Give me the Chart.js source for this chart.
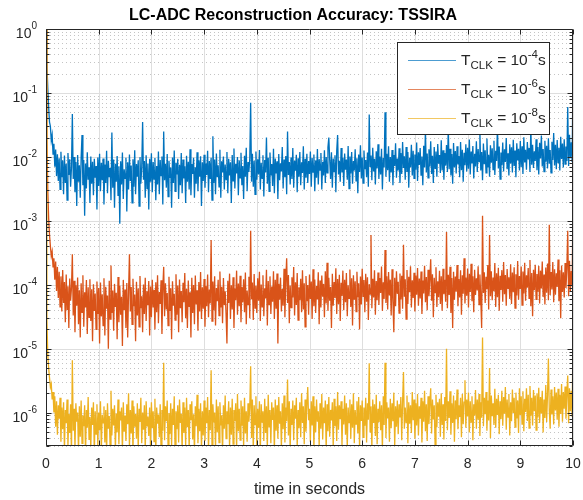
<!DOCTYPE html>
<html><head><meta charset="utf-8">
<script src="https://cdn.jsdelivr.net/npm/chart.js@4.4.1/dist/chart.umd.min.js"></script>
<style>html,body{margin:0;padding:0;background:#fff}canvas{display:block}</style>
</head><body>
<canvas id="c" width="583" height="500"></canvas>
<script>
// ---------- data ----------
const xTicks = [0,1,2,3,4,5,6,7,8,9,10];
const yTickExponents = [0,-1,-2,-3,-4,-5,-6];
const seriesLabels = ['-4','-6','-8'];

const blue = [
1,0.3,0.12,0.06,0.035,0.03,0.018,0.022,0.011,0.016,
0.007,0.013,0.005,0.011,0.0042,0.0095,0.0031,0.012,0.0048,0.0088,
0.0026,0.0105,0.0039,0.0078,0.0021,0.0115,0.0052,0.0092,0.0034,0.0068,
0.047,0.0045,0.0099,0.0028,0.0083,0.0017,0.0107,0.0041,0.0074,0.0023,
0.0096,0.022,0.0036,0.0089,0.0012,0.0079,0.0032,0.0118,0.0044,0.0069,
0.0019,0.0101,0.0038,0.0084,0.0025,0.0093,0.0047,0.0072,0.0015,0.0098,
0.0035,0.0112,0.0029,0.0081,0.0043,0.0094,0.0018,0.0076,0.0039,0.0124,
0.0027,0.0087,0.0048,0.0067,0.0021,0.024,0.0033,0.0091,0.0016,0.0078,
0.0041,0.0103,0.0025,0.0071,0.0009,0.0085,0.0037,0.0117,0.0022,0.0064,
0.0046,0.0097,0.0014,0.0082,0.0031,0.0109,0.0042,0.0073,0.0019,0.0092,
0.0034,0.0127,0.0026,0.0077,0.0049,0.0088,0.0017,0.0099,0.0038,0.0069,
0.035,0.0044,0.0086,0.0023,0.0106,0.0032,0.0079,0.0015,0.0093,0.0041,
0.0114,0.0028,0.0083,0.0045,0.0096,0.0021,0.0072,0.0037,0.0121,0.0026,
0.0089,0.0051,0.0101,0.0018,0.025,0.0043,0.0078,0.0033,0.0111,0.0024,
0.0087,0.0047,0.0068,0.0016,0.0098,0.0039,0.0126,0.0029,0.0081,0.0053,
0.0093,0.0022,0.0075,0.0036,0.0115,0.0027,0.0091,0.0046,0.0071,0.0019,
0.0104,0.0041,0.0084,0.0031,0.0131,0.0025,0.0077,0.0054,0.0097,0.0023,
0.0069,0.0038,0.0118,0.0029,0.0088,0.0049,0.0102,0.0017,0.0082,0.0042,
0.0108,0.0033,0.0079,0.0052,0.0124,0.0028,0.0086,0.0045,0.0097,0.0021,
0.021,0.0039,0.0091,0.0026,0.0113,0.0048,0.0074,0.0034,0.0129,0.0023,
0.0085,0.0057,0.0101,0.0031,0.0076,0.0044,0.0119,0.0027,0.0093,0.0051,
0.0082,0.0019,0.0107,0.0042,0.0135,0.0032,0.0078,0.0055,0.0099,0.0025,
0.0088,0.0047,0.0116,0.0036,0.0072,0.0022,0.0104,0.0049,0.0139,0.0029,
0.0083,0.0058,0.0095,0.07,0.0041,0.0112,0.0034,0.0087,0.0026,0.0121,
0.0044,0.0092,0.0053,0.0128,0.0031,0.0081,0.0046,0.0106,0.0024,0.0089,
0.0057,0.02,0.0038,0.0097,0.0029,0.0117,0.0051,0.0077,0.0035,0.0134,
0.0027,0.0094,0.0055,0.0085,0.0022,0.0111,0.0043,0.0079,0.0059,0.0142,
0.0032,0.0091,0.0048,0.0103,0.0026,0.025,0.0052,0.0083,0.0037,0.0098,
0.0045,0.0137,0.0033,0.0087,0.0061,0.0108,0.0028,0.0095,0.0049,0.0119,
0.0036,0.0082,0.0056,0.0146,0.0031,0.0093,0.0047,0.0112,0.0039,0.0086,
0.0054,0.0121,0.0034,0.0096,0.0058,0.0109,0.0029,0.0088,0.0047,0.0133,
0.0037,0.0092,0.0062,0.0115,0.0031,0.0084,0.0051,0.0127,0.0039,0.0099,
0.0056,0.0141,0.02,0.0089,0.0045,0.0118,0.0033,0.0094,0.0059,0.0106,
0.0028,0.0124,0.022,0.0053,0.0087,0.0041,0.0138,0.0057,0.0097,0.0035,
0.0113,0.0063,0.0091,0.0044,0.0148,0.0032,0.0101,0.0055,0.0119,0.0038,
0.0086,0.0061,0.0131,0.0042,0.0095,0.0027,0.0109,0.0058,0.0152,0.0046,
0.0098,0.0039,0.0126,0.0064,0.0089,0.0048,0.0117,0.0034,0.046,0.0071,
0.0105,0.0043,0.0139,0.0059,0.0093,0.0037,0.0122,0.0066,0.0158,0.0045,
0.0101,0.0053,0.0134,0.0031,0.0096,0.0068,0.05,0.0049,0.0112,0.0062,
0.0147,0.0041,0.0099,0.0057,0.0128,0.0036,0.0107,0.0072,0.0163,0.0047,
0.0094,0.0061,0.0136,0.0039,0.0115,0.0054,0.0171,0.0067,0.0102,0.0044,
0.0143,0.0058,0.0119,0.0033,0.0097,0.0069,0.0155,0.0051,0.0124,0.0046,
0.0109,0.0063,0.0167,0.0042,0.0118,0.0075,0.0137,0.0052,0.0101,0.0036,
0.0149,0.0068,0.027,0.0057,0.0113,0.0047,0.0131,0.0071,0.0176,0.0054,
0.0104,0.0039,0.0142,0.0066,0.0121,0.0049,0.0159,0.0078,0.0107,0.0056,
0.0182,0.0061,0.0127,0.0044,0.0115,0.0073,0.0153,0.0058,0.029,0.0064,
0.0134,0.0051,0.0111,0.0038,0.0164,0.0069,0.0123,0.0055,0.0146,0.0076,
0.0103,0.0048,0.0171,0.0062,0.0129,0.0041,0.0116,0.0074,0.0158,0.0059,
0.0139,0.0065,0.0187,0.0053,0.0121,0.0079,0.0148,0.0046,0.0112,0.0071,
0.0175,0.0058,0.0132,0.0084,0.0254,0.0061,0.0119,0.0043,0.0161,0.0077,
0.0127,0.0056,0.0193,0.0068,0.0108,0.0049,0.0152,0.0081,0.0136,0.0063,
0.0179,0.0052,0.0124,0.0086,0.0312,0.0066,0.0145,0.0045,0.0117,0.0074,
0.0168,0.0059,0.0131,0.0083,0.0197,0.0064,0.0114,0.0051,0.0157,0.0079,
0.0141,0.0057,0.0185,0.0072,0.0126,0.0048,0.0163,0.0088,0.0134,0.0061,
0.0177,0.0069,0.0146,0.0054,0.0203,0.0082,0.0129,0.0063,0.0171,0.0091,
0.0138,0.0058,0.0283,0.0075,0.0154,0.0067,0.0122,0.0086,0.0189,0.0062,
0.0143,0.0053,0.0166,0.0094,0.0215,0.0071,0.0133,0.0059,0.0178,0.0084,
0.0149,0.0066,0.0195,0.0078,0.0128,0.0056,0.0172,0.0089,0.0236,0.0073,
0.0155,0.0064,0.0184,0.0081,0.0139,0.0061,0.0207,0.0093,0.0162,0.0068,
0.0188,0.0077,0.0145,0.0086,0.06,0.0072,0.0221,0.0095,0.0169,0.0083,
0.2];

const orange = [
1,0.02,3e-3,1.1e-3,6e-4,4e-4,2.8e-4,3.3e-4,1.9e-4,2.6e-4,
1.2e-4,2.3e-4,8e-5,1.9e-4,6.2e-5,1.6e-4,4.5e-5,1.35e-4,3.8e-5,1.7e-4,
5.2e-5,1.1e-4,2.6e-5,1.45e-4,4.1e-5,9.5e-5,2.1e-5,1.25e-4,5.6e-5,8.8e-5,
3e-4,3.3e-5,1.15e-4,1.8e-5,9.8e-5,4.7e-5,1.3e-4,2.4e-5,8.2e-5,1.5e-5,
1.05e-4,3.7e-5,1.4e-4,2.2e-5,7.6e-5,4.4e-5,1.18e-4,1.7e-5,9.1e-5,3.1e-5,
1.22e-4,2.7e-5,8.5e-5,1.3e-5,1.02e-4,3.9e-5,7.3e-5,2e-5,1.12e-4,3.5e-5,
8.9e-5,1.2e-5,1.08e-4,3.2e-5,7.1e-5,2.3e-5,1.26e-4,1.6e-5,9.3e-5,4.2e-5,
6.8e-5,1e-5,1.15e-4,2.9e-5,2e-4,3.6e-5,8.1e-5,1.9e-5,1.03e-4,4.5e-5,
7.5e-5,1.4e-5,1.32e-4,2.6e-5,9.6e-5,3.4e-5,6.5e-5,1.1e-5,1.19e-4,4e-5,
8.4e-5,2.1e-5,1.06e-4,1.5e-5,7.8e-5,3e-4,3.8e-5,9.2e-5,2.4e-5,1.24e-4,
4.6e-5,7e-5,1.3e-5,1.11e-4,3.3e-5,8.7e-5,2.2e-5,1.37e-4,4.3e-5,6.6e-5,
1.8e-5,1.01e-4,3.5e-5,1.28e-4,2.7e-5,7.9e-5,4.8e-5,1.14e-4,1.6e-5,9.4e-5,
3.1e-5,1.2e-4,4.4e-5,8.3e-5,2e-5,1.09e-4,3.7e-5,1.41e-4,2.5e-5,7.7e-5,
5e-5,1.17e-4,1.7e-5,9e-5,1.9e-4,3.2e-5,1.05e-4,4.1e-5,7.4e-5,2.3e-5,
1.33e-4,3.9e-5,8.8e-5,1.4e-5,1.13e-4,4.7e-5,7.2e-5,2.8e-5,1.46e-4,3.4e-5,
9.7e-5,1.8e-5,1.21e-4,4.3e-5,8e-5,2.6e-5,1.07e-4,5.3e-5,1.52e-4,3e-5,
8.6e-5,2.1e-5,1.16e-4,4.5e-5,7.6e-5,1.5e-5,1.29e-4,3.6e-5,9.9e-5,2.4e-5,
1.39e-4,4.9e-5,8.2e-5,1.9e-5,1.1e-4,3.8e-5,1.58e-4,2.9e-5,9.1e-5,4.2e-5,
1.23e-4,2.2e-5,9.5e-5,4.6e-5,1.44e-4,3.1e-5,8.4e-5,5.1e-5,5e-4,2.7e-5,
1.12e-4,4e-5,1.36e-4,2.3e-5,8.9e-5,5.5e-5,1.19e-4,3.3e-5,1.61e-4,4.4e-5,
9.3e-5,2.5e-5,1.27e-4,4.8e-5,7.9e-5,3.5e-5,1.2e-5,1.15e-4,5.2e-5,1.49e-4,
2.9e-5,9.8e-5,4.1e-5,1.31e-4,2.1e-5,8.7e-5,5.7e-5,1.66e-4,3.4e-5,1.04e-4,
4.6e-5,1.38e-4,2.6e-5,9.2e-5,5.3e-5,1.22e-4,3.7e-5,1.55e-4,2.4e-5,8.1e-5,
4.9e-5,1.33e-4,3e-5,7e-4,5.9e-5,1.08e-4,2.8e-5,1.47e-4,4.3e-5,9.6e-5,
3.6e-5,1.26e-4,5.6e-5,1.59e-4,2.7e-5,1.01e-4,4.5e-5,1.4e-4,3.2e-5,8.8e-5,
6.1e-5,1.71e-4,2.3e-5,1.14e-4,4.9e-5,1.35e-4,3.5e-5,9.4e-5,5.4e-5,1.63e-4,
2.9e-5,1.2e-4,4.2e-5,1.5e-4,1.2e-5,1.03e-4,5.8e-5,1.29e-4,3.8e-5,8.6e-5,
4.7e-5,1.78e-4,3.1e-5,1.17e-4,2.6e-4,5.2e-5,1.42e-4,2.5e-5,9.7e-5,4.4e-5,
1.31e-4,6.3e-5,1.9e-4,3.3e-5,1.09e-4,4.8e-5,1.53e-4,2.8e-5,9.1e-5,5.7e-5,
1.24e-4,3.7e-5,1.68e-4,4.1e-5,1.05e-4,2.2e-5,1.37e-4,5.5e-5,9.9e-5,3.4e-5,
1.45e-4,6e-5,1.12e-4,2.9e-5,1.74e-4,4.6e-5,1.21e-4,3.6e-5,9.5e-5,5.9e-5,
1.57e-4,2.4e-5,1.16e-4,4.4e-5,1.39e-4,6.5e-5,1.03e-4,3.1e-5,1.62e-4,5.1e-5,
2.2e-4,3.9e-5,1.28e-4,5.6e-5,9.2e-5,2.1e-5,1.49e-4,4.7e-5,1.1e-4,6.2e-5,
1.81e-4,3.5e-5,1.23e-4,5e-5,1.43e-4,2.7e-5,1.07e-4,6.7e-5,1.66e-4,4e-5,
1.19e-4,5.3e-5,1.52e-4,3.2e-5,9.8e-5,6.1e-5,1.73e-4,4.5e-5,1.26e-4,2.3e-5,
1.41e-4,5.8e-5,1.13e-4,3.8e-5,1.6e-4,6.4e-5,1.05e-4,2e-5,1.34e-4,4.9e-5,
1.77e-4,6.6e-5,1.18e-4,3.7e-5,1.48e-4,5.4e-5,1.31e-4,2.8e-5,1.02e-4,7.1e-5,
6e-4,4.3e-5,1.24e-4,6.3e-5,1.69e-4,3.4e-5,1.14e-4,5.7e-5,1.55e-4,4.8e-5,
1.27e-4,7.4e-5,1.92e-4,3.9e-5,1.09e-4,6e-5,3.5e-4,5.2e-5,1.36e-4,4.1e-5,
1.58e-4,6.8e-5,1.2e-4,3.3e-5,1.75e-4,5.5e-5,1.8e-5,1.29e-4,4.6e-5,1.63e-4,
7.2e-5,1.11e-4,3.6e-5,1.5e-4,5.9e-5,1.38e-4,4.2e-5,4.2e-4,6.5e-5,1.22e-4,
2.9e-5,1.7e-4,5e-5,1.33e-4,7.6e-5,1.95e-4,4.4e-5,1.17e-4,6.2e-5,1.54e-4,
3.8e-5,1.39e-4,7e-5,1.82e-4,4.7e-5,1.25e-4,6.1e-5,1.61e-4,3.5e-5,1.16e-4,
7.3e-5,1.98e-4,5.3e-5,1.32e-4,4e-5,1.72e-4,6.6e-5,1.21e-4,2.5e-4,5.6e-5,
1.46e-4,3.1e-5,1.28e-4,7.5e-5,1.87e-4,4.5e-5,1.13e-4,6.4e-5,1.65e-4,5e-5,
1.35e-4,3.9e-5,1.78e-4,7.1e-5,1.19e-4,5.4e-5,6.7e-4,4.3e-5,1.43e-4,6.9e-5,
1.91e-4,3.6e-5,1.27e-4,2.1e-5,1.59e-4,5.8e-5,1.34e-4,7.8e-5,2.03e-4,4.6e-5,
1.23e-4,6.3e-5,1.68e-4,3.4e-5,1.4e-4,7.2e-5,2.6e-4,5.1e-5,1.3e-4,6.7e-5,
1.79e-4,4.4e-5,1.48e-4,7.7e-5,2.12e-4,5.5e-5,1.36e-4,3.7e-5,1.71e-4,6.9e-5,
1.26e-4,8.1e-5,1.95e-4,4.9e-5,1.44e-4,6.2e-5,2.1e-5,1.2e-3,7.4e-5,1.57e-4,
5.2e-5,1.33e-4,8.5e-5,2.04e-4,4.1e-5,6e-4,6.6e-5,1.62e-4,5.7e-5,1.29e-4,
7.9e-5,2.18e-4,4.5e-5,1.51e-4,6.4e-5,1.84e-4,3.9e-5,1.38e-4,8.3e-5,1.69e-4,
5.4e-5,2.27e-4,7.1e-5,1.42e-4,4.7e-5,1.76e-4,8.8e-5,1.31e-4,6e-5,2.09e-4,
5e-5,1.55e-4,7.6e-5,1.88e-4,4.3e-5,1.46e-4,6.8e-5,2.35e-4,5.8e-5,1.37e-4,
8.6e-5,1.93e-4,4.8e-5,1.61e-4,7.3e-5,2.21e-4,5.6e-5,1.4e-4,9e-5,1.82e-4,
6.1e-5,2.43e-4,4.6e-5,1.53e-4,3.2e-5,1.72e-4,8.2e-5,2.05e-4,5.9e-5,1.47e-4,
7.8e-5,1.97e-4,5.1e-5,1.66e-4,8.7e-5,2.3e-4,6.4e-5,1.44e-4,4.9e-5,1.86e-4,
7.5e-5,2.14e-4,5.7e-5,8.7e-4,6.9e-5,1.58e-4,8.4e-5,2.26e-4,5.3e-5,1.75e-4,
7e-5,1.51e-4,9.2e-5,2.48e-4,5.5e-5,1.68e-4,3e-5,1.99e-4,7.7e-5,1.57e-4,
6.3e-5,2.19e-4,8.9e-5,1.79e-4,7e-4,6.6e-5,2.37e-4,8e-5,1.63e-4,9.5e-5,
2e-3];

const yellow = [
1,3e-5,8e-6,5e-6,3.5e-6,2.5e-6,2.8e-6,1.6e-6,2.1e-6,1e-6,
1.8e-6,6e-7,1.5e-6,4.5e-7,1.3e-6,8e-7,1.7e-6,3.5e-7,1.2e-6,5.5e-7,
1.45e-6,2.6e-7,1.1e-6,6.8e-7,1.6e-6,3e-7,9.5e-7,4.8e-7,1.35e-6,2.2e-7,
6.6e-6,5.2e-7,1.15e-6,2.8e-7,1.4e-6,7.2e-7,1e-6,2.4e-7,1.25e-6,4.2e-7,
1.55e-6,3.3e-7,9e-7,6.1e-7,1.3e-6,2.1e-7,1.1e-6,5.8e-7,1.75e-6,3.8e-7,
8.5e-7,2.7e-7,1.2e-6,6.4e-7,1.45e-6,2.3e-7,1.05e-6,4.6e-7,1.35e-6,3.1e-7,
1e-6,5.3e-7,1.5e-6,2.5e-7,9.2e-7,6.9e-7,1.25e-6,3.4e-7,1.1e-6,2.2e-7,
1.4e-6,5.6e-7,8.8e-7,2.9e-7,2.2e-6,4.4e-7,1.15e-6,6.3e-7,1.3e-6,2.6e-7,
9.7e-7,4.9e-7,1.6e-6,3.2e-7,1.05e-6,7.5e-7,1.2e-6,2.4e-7,1.45e-6,5e-7,
9e-7,3.6e-7,1.35e-6,6.6e-7,2e-6,2.8e-7,1.1e-6,4.7e-7,1.55e-6,2.3e-7,
1.25e-6,6e-7,9.5e-7,3.9e-7,1.4e-6,2.7e-7,1.15e-6,7.1e-7,1.7e-6,3.3e-7,
1e-6,5.4e-7,1.3e-6,2.5e-7,1.5e-6,6.2e-7,8.7e-7,4.3e-7,1.2e-6,2.9e-7,
1.45e-6,5.7e-7,1.05e-6,3.5e-7,1.65e-6,2.4e-7,1.2e-6,6.7e-7,9.3e-7,4.1e-7,
1.35e-6,2.6e-7,1.1e-6,5.2e-7,6e-6,3.7e-7,1.25e-6,7.3e-7,1.55e-6,2.8e-7,
9.8e-7,4.6e-7,1.4e-6,3.1e-7,1.15e-6,6.4e-7,1.8e-6,2.3e-7,1.05e-6,5.5e-7,
1.3e-6,3.4e-7,1.6e-6,6.9e-7,9.6e-7,2.5e-7,1.45e-6,4.8e-7,1.2e-6,3e-7,
1.7e-6,5.9e-7,1.1e-6,2.7e-7,1.35e-6,7.6e-7,1.5e-6,3.8e-7,9.4e-7,2.4e-7,
1.25e-6,6.1e-7,1.9e-6,3.3e-7,1.15e-6,5.1e-7,1.4e-6,2.6e-7,1.05e-6,4.4e-7,
1.55e-6,3.6e-7,1.2e-6,6.8e-7,1.75e-6,2.5e-7,1.1e-6,5.3e-7,4.6e-6,3.1e-7,
1.35e-6,7e-7,1e-6,2.7e-7,1.6e-6,4.9e-7,1.25e-6,3.4e-7,1.45e-6,6.3e-7,
9.1e-7,2.3e-7,1.3e-6,5.6e-7,1.85e-6,3.9e-7,1.05e-6,6.6e-7,1.5e-6,2.8e-7,
1.2e-6,4.5e-7,1.65e-6,3.2e-7,1.1e-6,7.4e-7,1.4e-6,2.5e-7,1.95e-6,5.1e-7,
1.15e-6,3.7e-7,1.55e-6,6.2e-7,1.25e-6,2.9e-7,1.7e-6,4.7e-7,1.05e-6,3.5e-7,
1.4e-6,7.2e-7,1.2e-6,5.3e-6,4e-7,1.6e-6,2.6e-7,1.3e-6,6.5e-7,1.8e-6,
3.1e-7,1.15e-6,5.8e-7,1.5e-6,2.4e-7,1.35e-6,7.1e-7,1.05e-6,3.6e-7,1.65e-6,
4.8e-7,1.25e-6,2.7e-7,1.9e-6,6e-7,1.1e-6,3.3e-7,1.45e-6,7.7e-7,1.2e-6,
2.5e-7,1.6e-6,5.2e-7,1.3e-6,3.9e-7,1.75e-6,6.7e-7,1.05e-6,2.8e-7,1.4e-6,
5.5e-7,1.85e-6,3.4e-7,1.2e-6,7.3e-7,3.3e-6,4.4e-7,1.5e-6,2.6e-7,1.15e-6,
6.4e-7,1.55e-6,3.7e-7,1.3e-6,8e-7,1.7e-6,2.9e-7,1.1e-6,5.7e-7,1.45e-6,
4.1e-7,2e-6,6.9e-7,1.25e-6,3.2e-7,1.6e-6,5e-7,1.35e-6,2.5e-6,7.6e-7,
1.15e-6,3.5e-7,1.5e-6,6.3e-7,1.8e-6,2.7e-7,1.25e-6,4.9e-7,1.6e-6,7.2e-7,
1.05e-6,3e-7,1.4e-6,5.6e-7,1.95e-6,3.8e-7,1.2e-6,6.8e-7,1.55e-6,2.6e-7,
1.35e-6,5.1e-7,1.75e-6,4.2e-7,1.1e-6,7.5e-7,1.45e-6,2.9e-7,1.65e-6,6.1e-7,
1.25e-6,3.6e-7,2.1e-6,5.4e-7,1.3e-6,7.9e-7,1.5e-6,3.1e-7,1.15e-6,6.5e-7,
1.85e-6,4.5e-7,1.4e-6,2.8e-7,1.2e-6,7e-7,1.6e-6,3.9e-7,1.35e-6,5.8e-7,
2e-6,3.3e-7,1.1e-6,6.6e-7,1.5e-6,4.7e-7,1.75e-6,2.7e-7,1.3e-6,7.4e-7,
1.55e-6,4.1e-7,1.2e-6,6.2e-7,1.7e-6,3.4e-7,1.4e-6,7.7e-7,5.9e-6,5e-7,
1.25e-6,2.9e-7,1.6e-6,6.9e-7,1.35e-6,4.3e-7,1.9e-6,3.2e-7,1.15e-6,7.1e-7,
1.5e-6,5.3e-7,1.3e-6,2.6e-7,1.8e-6,6.4e-7,6e-6,4e-7,1.45e-6,8.1e-7,
1.2e-6,3.5e-7,1.65e-6,5.7e-7,1.4e-6,7.3e-7,2.05e-6,3e-7,1.25e-6,6e-7,
1.55e-6,4.6e-7,1.35e-6,8.4e-7,1.75e-6,3.7e-7,1.5e-6,4.3e-6,5.6e-7,1.2e-6,
7e-7,1.85e-6,3.3e-7,1.45e-6,6.7e-7,1.3e-6,4.8e-7,2.1e-6,7.6e-7,1.6e-6,
3.9e-7,1.4e-6,6.3e-7,1.95e-6,4.4e-7,1.25e-6,8e-7,1.7e-6,3.4e-7,1.5e-6,
7.2e-7,2.2e-6,5.1e-7,1.35e-6,3.6e-7,1.8e-6,6.6e-7,1.45e-6,2.4e-6,4.7e-7,
1.6e-6,7.8e-7,1.3e-6,3.1e-7,1.9e-6,5.9e-7,1.45e-6,8.6e-7,1.65e-6,4.2e-7,
2e-6,6.4e-7,1.35e-6,3.8e-7,1.75e-6,7.4e-7,1e-5,5.3e-7,1.5e-6,8.2e-7,
2.15e-6,4.5e-7,1.4e-6,6.9e-7,1.85e-6,3.5e-7,1.55e-6,7.9e-7,2.3e-6,5.5e-7,
1.3e-6,8.5e-7,1.7e-6,4.1e-7,1.95e-6,6.6e-7,1.45e-6,3.2e-6,5.8e-7,1.6e-6,
8.7e-7,2.05e-6,4.9e-7,1.5e-6,7.1e-7,1.8e-6,3.7e-7,1.35e-6,9e-7,2.25e-6,
5.6e-7,1.6e-6,7.7e-7,1.95e-6,4.3e-7,1.45e-6,8.3e-7,1.5e-5,6.1e-7,1.7e-6,
9.4e-7,2.1e-6,5.2e-7,1.55e-6,7.5e-7,5e-6,4e-7,1.85e-6,8.8e-7,1.4e-6,
6.4e-7,2.35e-6,5.8e-7,1.65e-6,9.2e-7,1.9e-6,4.6e-7,1.5e-6,7.9e-7,2.2e-6,
6.2e-7,1.75e-6,9.6e-7,2.5e-6,5.4e-7,1.6e-6,8.5e-7,1.95e-6,4.4e-7,1.45e-6,
7.3e-7,2.3e-6,9.9e-7,1.7e-6,5.9e-7,2.05e-6,8.1e-7,1.55e-6,4.8e-7,2.4e-6,
9.1e-7,1.8e-6,6.6e-7,2.15e-6,5.1e-7,1.65e-6,1.02e-6,2.4e-6,7.4e-7,1.9e-6,
5.7e-7,2.6e-6,8.9e-7,1.7e-6,6.3e-7,2.25e-6,1.05e-6,1.85e-6,5.3e-7,2e-6,
8.4e-7,2.45e-6,6.9e-7,1.75e-6,9.7e-7,2.2e-6,4.9e-7,1.6e-6,8.2e-7,2.7e-6,
7.1e-7,1.95e-6,7e-6,1.1e-6,5.6e-7,2.3e-6,9.3e-7,1.8e-6,6.5e-7,2.5e-6,
1.08e-6,2.05e-6,7.7e-7,2.35e-6,6e-7,1.9e-6,9.5e-7,2.8e-6,7.2e-7,2.1e-6,
1.15e-6,2.55e-6,8e-7,1.95e-6,3.8e-6,6.8e-7,2.4e-6,1.05e-6,2.2e-6,8.6e-7,
1.5e-5];

// uniform sample grid of the time axis (0 .. 10 s)
const time = blue.map((_, i) => i * 10 / (blue.length - 1));

const COLORS = ['#0072BD', '#D95319', '#EDB120'];
const FONT = "'Liberation Sans', Arial, Helvetica, sans-serif";
const AX = '#262626';

function pts(arr){ return arr.map((v,i)=>({x:time[i], y:v})); }

const matlabPlugin = {
  id: 'matlab',
  beforeDatasetsDraw(chart){
    const {ctx, chartArea:a, scales:{x:xs, y:ys}} = chart;
    ctx.save();
    ctx.lineWidth = 1;
    ctx.strokeStyle = '#c4c4c4';
    ctx.setLineDash([1,3]);
    for (const e of yTickExponents.concat([-7])){
      for (let k=2;k<=9;k++){
        const v = k*Math.pow(10,e);
        if (v < ys.min || v > ys.max) continue;
        const py = Math.round(ys.getPixelForValue(v)) + 0.5;
        ctx.beginPath(); ctx.moveTo(a.left, py); ctx.lineTo(a.right, py); ctx.stroke();
      }
    }
    ctx.setLineDash([]);
    ctx.strokeStyle = '#dedede';
    for (const e of yTickExponents){
      const py = Math.round(ys.getPixelForValue(Math.pow(10,e))) + 0.5;
      ctx.beginPath(); ctx.moveTo(a.left, py); ctx.lineTo(a.right, py); ctx.stroke();
    }
    for (const t of xTicks){
      const px = Math.round(xs.getPixelForValue(t)) + 0.5;
      ctx.beginPath(); ctx.moveTo(px, a.top); ctx.lineTo(px, a.bottom); ctx.stroke();
    }
    ctx.restore();
  },
  afterDatasetsDraw(chart){
    const {ctx, chartArea:a, scales:{x:xs, y:ys}} = chart;
    ctx.save();
    ctx.strokeStyle = AX; ctx.lineWidth = 1; ctx.setLineDash([]);
    const L = a.left + 0.5, R = a.right - 0.5, T = a.top + 0.5, B = a.bottom - 0.5;
    ctx.beginPath();
    ctx.moveTo(L,T); ctx.lineTo(R,T); ctx.lineTo(R,B); ctx.lineTo(L,B); ctx.closePath();
    ctx.stroke();
    ctx.beginPath();
    for (const t of xTicks){
      const px = Math.round(xs.getPixelForValue(t)) + 0.5;
      ctx.moveTo(px, B); ctx.lineTo(px, B-5);
      ctx.moveTo(px, T); ctx.lineTo(px, T+5);
    }
    for (const e of yTickExponents.concat([-7])){
      for (let k=1;k<=9;k++){
        const v = k*Math.pow(10,e);
        if (v < ys.min || v > ys.max) continue;
        const py = Math.round(ys.getPixelForValue(v)) + 0.5;
        const len = k===1 ? 5 : 3;
        ctx.moveTo(L, py); ctx.lineTo(L+len, py);
        ctx.moveTo(R, py); ctx.lineTo(R-len, py);
      }
    }
    ctx.stroke();
    // x tick labels
    ctx.fillStyle = AX;
    ctx.font = '14px ' + FONT;
    ctx.textAlign = 'center'; ctx.textBaseline = 'top';
    for (const t of xTicks){
      ctx.fillText(String(t), xs.getPixelForValue(t), a.bottom + 11);
    }
    // y tick labels 10^e
    ctx.textBaseline = 'alphabetic';
    for (const e of yTickExponents){
      const py = ys.getPixelForValue(Math.pow(10,e));
      const sup = String(e);
      ctx.font = '10px ' + FONT;
      const ws = ctx.measureText(sup).width;
      ctx.font = '14px ' + FONT;
      const wb = ctx.measureText('10').width;
      const right = a.left - 9;
      ctx.textAlign = 'left';
      ctx.fillText('10', right - ws - wb, py + 9);
      ctx.font = '10px ' + FONT;
      ctx.fillText(sup, right - ws, py);
    }
    // axis title
    ctx.font = '16px ' + FONT;
    ctx.textAlign = 'center'; ctx.textBaseline = 'alphabetic';
    ctx.fillText('time in seconds', (a.left + a.right)/2, 494);
    // title
    ctx.fillStyle = '#000';
    ctx.font = 'bold 16px ' + FONT;
    ctx.fillText('LC-ADC Reconstruction Accuracy: TSSIRA', 293, 20);
    // legend
    const bx = 397.5, by = 42.5, bw = 152, bh = 92;
    ctx.fillStyle = '#fff';
    ctx.fillRect(bx, by, bw, bh);
    ctx.strokeStyle = AX;
    ctx.strokeRect(bx, by, bw, bh);
    const rows = [60, 89, 118];
    rows.forEach((ry, i) => {
      ctx.save();
      ctx.globalAlpha = 0.7;
      ctx.strokeStyle = COLORS[i];
      ctx.lineWidth = 1;
      ctx.beginPath(); ctx.moveTo(408, ry + 0.5); ctx.lineTo(456, ry + 0.5); ctx.stroke();
      ctx.restore();
      ctx.fillStyle = AX;
      ctx.textAlign = 'left';
      let x0 = 461;
      const base = ry + 5;
      ctx.font = '15.5px ' + FONT;
      ctx.fillText('T', x0, base); x0 += ctx.measureText('T').width;
      ctx.font = '11.5px ' + FONT;
      ctx.fillText('CLK', x0, base + 4); x0 += ctx.measureText('CLK').width;
      ctx.font = '15.5px ' + FONT;
      ctx.fillText(' = 10', x0, base); x0 += ctx.measureText(' = 10').width;
      ctx.font = '11.5px ' + FONT;
      ctx.fillText(seriesLabels[i], x0, base - 7); x0 += ctx.measureText(seriesLabels[i]).width;
      ctx.font = '15.5px ' + FONT;
      ctx.fillText('s', x0, base);
    });
    ctx.restore();
  }
};

new Chart(document.getElementById('c'), {
  type: 'line',
  data: {
    datasets: [
      {label:'T_CLK = 10^-4 s', data: pts(blue),   borderColor: COLORS[0], borderWidth: 1.3, pointRadius: 0, tension: 0, clip: 0, order: 2},
      {label:'T_CLK = 10^-6 s', data: pts(orange), borderColor: COLORS[1], borderWidth: 1.3, pointRadius: 0, tension: 0, clip: 0, order: 1},
      {label:'T_CLK = 10^-8 s', data: pts(yellow), borderColor: COLORS[2], borderWidth: 1.3, pointRadius: 0, tension: 0, clip: 0, order: 0}
    ]
  },
  options: {
    responsive: false,
    animation: false,
    devicePixelRatio: 1,
    parsing: false,
    layout: {padding: {left: 46, right: 10, top: 29, bottom: 54}},
    plugins: {legend: {display: false}, title: {display: false}, tooltip: {enabled: false}},
    scales: {
      x: {type: 'linear', min: 0, max: 10, display: false},
      y: {type: 'logarithmic', min: 3e-7, max: 1, display: false}
    }
  },
  plugins: [matlabPlugin]
});
</script>
</body></html>
